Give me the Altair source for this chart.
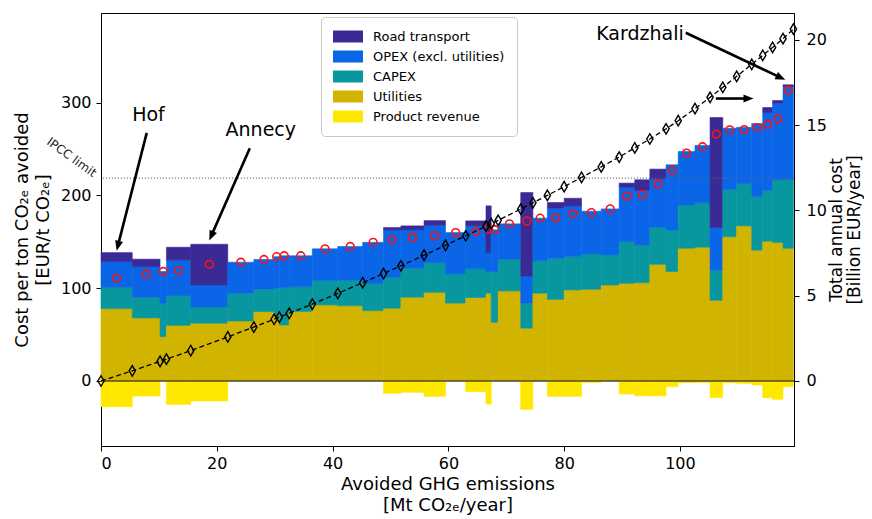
import math
import altair as alt
import pandas as pd

# ---------------- data ----------------
# bar edges: cumulative avoided emissions [Mt CO2e/year]
edges = [0, 5.4, 10.2, 11.3, 15.5, 21.9, 26.4, 29.9, 30.8, 32.5, 36.5, 40.9, 45.2,
         48.8, 51.8, 55.8, 59.5, 63.0, 66.5, 67.4, 68.6, 72.5, 74.6, 77.1, 80.0,
         83.0, 86.4, 89.5, 92.2, 94.8, 97.6, 99.7, 102.6, 105.2, 107.4, 109.8,
         112.4, 114.3, 116.0, 117.8, 119.6]

# cost components per bar [EUR/t CO2e]
utilities = [78.0, 68.0, 47.8, 60.0, 62.2, 64.7, 74.8, 70.0, 60.4, 75.0,
             82.0, 81.0, 75.8, 78.4, 90.3, 95.6, 84.0, 90.0, 94.6, 63.3,
             97.1, 56.9, 94.6, 88.0, 98.2, 98.9, 103.5, 105.3, 106.0, 125.8,
             118.0, 143.1, 144.2, 87.0, 155.5, 167.2, 141.0, 150.8, 149.4, 143.1]
capex = [23.0, 22.3, 36.0, 32.0, 17.6, 29.9, 24.2, 30.0, 40.1, 26.6,
         26.2, 27.9, 29.2, 33.5, 31.3, 32.1, 31.4, 31.0, 23.4, 54.7,
         34.2, 26.9, 35.2, 44.3, 35.9, 38.1, 32.4, 45.0, 40.7, 39.9,
         44.9, 46.7, 48.1, 32.6, 51.0, 45.6, 57.8, 54.7, 67.4, 74.1]
opex = [27.7, 33.0, 34.2, 38.5, 23.8, 33.4, 32.0, 34.0, 34.5, 33.4,
        34.3, 36.1, 44.5, 51.0, 41.3, 40.2, 44.6, 46.5, 20.4, 45.0,
        38.1, 29.2, 45.7, 54.0, 54.6, 46.0, 49.6, 58.7, 58.7, 51.9,
        70.1, 57.6, 61.7, 45.8, 66.0, 60.7, 78.7, 83.9, 82.7, 100.3]
road = [9.7, 8.0, 0.0, 13.7, 43.8, 0.0, 0.0, 0.0, 0.0, 0.0,
        0.0, 0.0, 0.0, 2.5, 4.3, 5.0, 0.0, 5.1, 50.4, 0.0,
        0.0, 90.1, 0.0, 6.1, 8.3, 0.0, 0.0, 4.3, 11.5, 10.8,
        0.0, 0.0, 0.0, 118.6, 0.0, 0.0, 0.0, 5.4, 2.9, 1.8]
revenue = [-27.7, -16.2, 0.0, -25.2, -21.6, 0.0, 0.0, 0.0, 0.0, 0.0,
           0.0, 0.0, 0.0, -13.3, -12.2, -16.5, 0.0, -11.5, -24.8, 0.0,
           0.0, -30.6, 0.0, -16.5, -16.5, -1.5, 0.0, -14.0, -16.0, -16.0,
           -6.1, -1.8, -1.5, -17.8, -1.8, -2.5, -4.3, -18.0, -19.8, -6.1]

categories = ["Road transport", "OPEX (excl. utilities)", "CAPEX", "Utilities", "Product revenue"]
cat_colors = ["#3a2a96", "#0a66e6", "#08979f", "#d1b400", "#ffe800"]

IPCC_LIMIT = 218.7

ann_labels = ["Hof", "Annecy", "Kardzhali"]
ann_x = [8.2, 27.6, 93.1]
ann_y = [280.5, 264.3, 367.9]

arrow_x0 = [7.9, 25.7, 101.0, 106.2]
arrow_y0 = [267.5, 251.0, 375.4, 304.5]
arrow_x1 = [2.7, 18.7, 118.2, 112.7]
arrow_y1 = [140.5, 151.5, 324.7, 304.5]

# ---------------- layout constants ----------------
PLOT_W, PLOT_H = 693, 433
XMIN, XMAX = 0.0, 119.7
YMIN, YMAX = -70.07, 396.7
RATIO = 18.39  # left-axis units per right-axis unit
R_MIN, R_MAX = YMIN / RATIO, YMAX / RATIO
FONT = "DejaVu Sans"

# ---------------- tables ----------------
rows = []
for i in range(len(utilities)):
    x0, x1 = edges[i], edges[i + 1]
    base = 0.0
    for name, val in [("Utilities", utilities[i]), ("CAPEX", capex[i]),
                      ("OPEX (excl. utilities)", opex[i]), ("Road transport", road[i])]:
        if val > 0:
            rows.append(dict(x0=x0, x1=x1, y0=base, y1=base + val, cat=name))
            base += val
    if revenue[i] < 0:
        rows.append(dict(x0=x0, x1=x1, y0=revenue[i], y1=0.0, cat="Product revenue"))
bars_df = pd.DataFrame(rows)

net = [utilities[i] + capex[i] + opex[i] + road[i] + revenue[i] for i in range(len(utilities))]
centers = [(edges[i] + edges[i + 1]) / 2 for i in range(len(utilities))]
circ_df = pd.DataFrame({"x": centers, "y": net})

cum = [0.0]
for i in range(len(net)):
    cum.append(cum[-1] + net[i] * (edges[i + 1] - edges[i]) / 1000.0)
cum_df = pd.DataFrame({"x": edges, "y": cum})

SX = PLOT_W / (XMAX - XMIN)
SY = PLOT_H / (YMAX - YMIN)
arows = []
for xs, ys, xt, yt in zip(arrow_x0, arrow_y0, arrow_x1, arrow_y1):
    dx = (xt - xs) * SX
    dy = -(yt - ys) * SY
    L = math.hypot(dx, dy)
    ang = math.degrees(math.atan2(dx, -dy)) % 360
    back = 8.0
    xe = xt - dx / L * back / SX
    ye = yt + dy / L * back / SY
    arows.append(dict(xs=xs, ys=ys, xe=xe, ye=ye, xt=xt, yt=yt, ang=ang))
arr_df = pd.DataFrame(arows)
ann_df = pd.DataFrame({"label": ann_labels, "x": ann_x, "y": ann_y})
ipcc_df = pd.DataFrame({"y": [IPCC_LIMIT], "x": [-5.06], "yt": [241.1], "t": ["IPCC limit"]})
zero_df = pd.DataFrame({"y": [0.0]})

xscale = alt.Scale(domain=[XMIN, XMAX], nice=False, zero=False)
yscale = alt.Scale(domain=[YMIN, YMAX], nice=False, zero=False)
rscale = alt.Scale(domain=[R_MIN, R_MAX], nice=False, zero=False)

xaxis = alt.Axis(values=[0, 20, 40, 60, 80, 100], format="d",
                 title=["Avoided GHG emissions", "[Mt CO₂ₑ/year]"],
                 labelPadding=4, titlePadding=4)
yaxis = alt.Axis(values=[0, 100, 200, 300], format="d",
                 title=["Cost per ton CO₂ₑ avoided", "[EUR/t CO₂ₑ]"],
                 labelPadding=5, titlePadding=8)
raxis = alt.Axis(orient="right", values=[0, 5, 10, 15, 20], format="d",
                 title=["Total annual cost", "[Billion EUR/year]"],
                 titleAngle=270, titleBaseline="top", titleAlign="center",
                 titleX=34, titleY=PLOT_H / 2, titleLineHeight=18, titleFontSize=17,
                 labelPadding=7)


def X(field):
    return alt.X(field, scale=xscale, axis=xaxis)


def Y(field):
    return alt.Y(field, scale=yscale, axis=yaxis)


def R(field):
    return alt.Y(field, scale=rscale, axis=raxis)


color_scale = alt.Scale(domain=categories, range=cat_colors)

# ---------------- left-axis layers ----------------
bars = alt.Chart(bars_df).mark_rect(strokeWidth=0.6).encode(
    x=X("x0:Q"),
    x2="x1:Q",
    y=Y("y0:Q"),
    y2="y1:Q",
    stroke=alt.Stroke("cat:N", scale=color_scale, legend=None),
    color=alt.Color("cat:N", scale=color_scale,
                    legend=alt.Legend(orient="none", legendX=220, legendY=4, title=None,
                                      symbolType="M-1,-0.8H3V0.8H-1Z", symbolSize=225,
                                      symbolStrokeWidth=0, symbolOpacity=1,
                                      labelFont=FONT, labelFontSize=13, labelColor="black",
                                      labelLimit=300, labelOffset=25,
                                      padding=12, rowPadding=5,
                                      strokeColor="#c8c8c8", fillColor="white",
                                      cornerRadius=4)),
)

zero_line = alt.Chart(zero_df).mark_rule(color="#333333", strokeWidth=1.6, opacity=0.85).encode(
    y=Y("y:Q")
)

ipcc_line = alt.Chart(ipcc_df).mark_rule(color="#666666", strokeWidth=1, strokeDash=[1.2, 1.8]).encode(
    y=Y("y:Q")
)
ipcc_text = alt.Chart(ipcc_df).mark_text(font=FONT, fontSize=12, angle=36, color="#222222",
                                         align="center", baseline="middle").encode(
    x=X("x:Q"),
    y=Y("yt:Q"),
    text="t:N",
)

circles = alt.Chart(circ_df).mark_point(shape="circle", filled=False, color="#ff1010",
                                        size=60, strokeWidth=1.6, opacity=1).encode(
    x=X("x:Q"),
    y=Y("y:Q"),
)

arrow_lines = alt.Chart(arr_df).mark_rule(color="black", strokeWidth=2.6).encode(
    x=X("xs:Q"),
    y=Y("ys:Q"),
    x2="xe:Q",
    y2="ye:Q",
)
arrow_heads = alt.Chart(arr_df).mark_point(shape="M0,0L0.8,2L-0.8,2Z", filled=True,
                                           color="black", size=100, opacity=1,
                                           strokeWidth=0).encode(
    x=X("xt:Q"),
    y=Y("yt:Q"),
    angle=alt.Angle("ang:Q", scale=None),
)
ann_text = alt.Chart(ann_df).mark_text(font=FONT, fontSize=19, color="black",
                                       align="center", baseline="alphabetic").encode(
    x=X("x:Q"),
    y=Y("y:Q"),
    text="label:N",
)

left = alt.layer(bars, zero_line, ipcc_line, ipcc_text, circles,
                 arrow_lines, arrow_heads, ann_text)

# ---------------- right-axis layers ----------------
cum_line = alt.Chart(cum_df).mark_line(color="black", strokeWidth=1.3, strokeDash=[5, 3]).encode(
    x=X("x:Q"),
    y=R("y:Q"),
)
cum_pts = alt.Chart(cum_df).mark_point(shape="M0,-1L0.6,0L0,1L-0.6,0Z", filled=False,
                                       color="black", size=110, strokeWidth=1.4,
                                       opacity=1).encode(
    x=X("x:Q"),
    y=R("y:Q"),
)
right = alt.layer(cum_line, cum_pts)

chart = (
    alt.layer(left, right)
    .resolve_scale(y="independent")
    .properties(width=PLOT_W, height=PLOT_H,
                autosize=alt.AutoSizeParams(type="none"),
                padding={"left": 93, "top": 5, "right": 70, "bottom": 73})
    .configure(font=FONT)
    .configure_view(stroke="black", strokeWidth=1)
    .configure_axis(labelFont=FONT, labelFontSize=16, labelColor="black",
                    titleFont=FONT, titleFontSize=18, titleFontWeight="normal",
                    titleColor="black", titleLineHeight=21,
                    tickColor="black", tickSize=5, tickWidth=1,
                    domainColor="black", domainWidth=1, grid=False)
)

chart.save("out.html", embed_options={"renderer": "svg", "actions": False})
